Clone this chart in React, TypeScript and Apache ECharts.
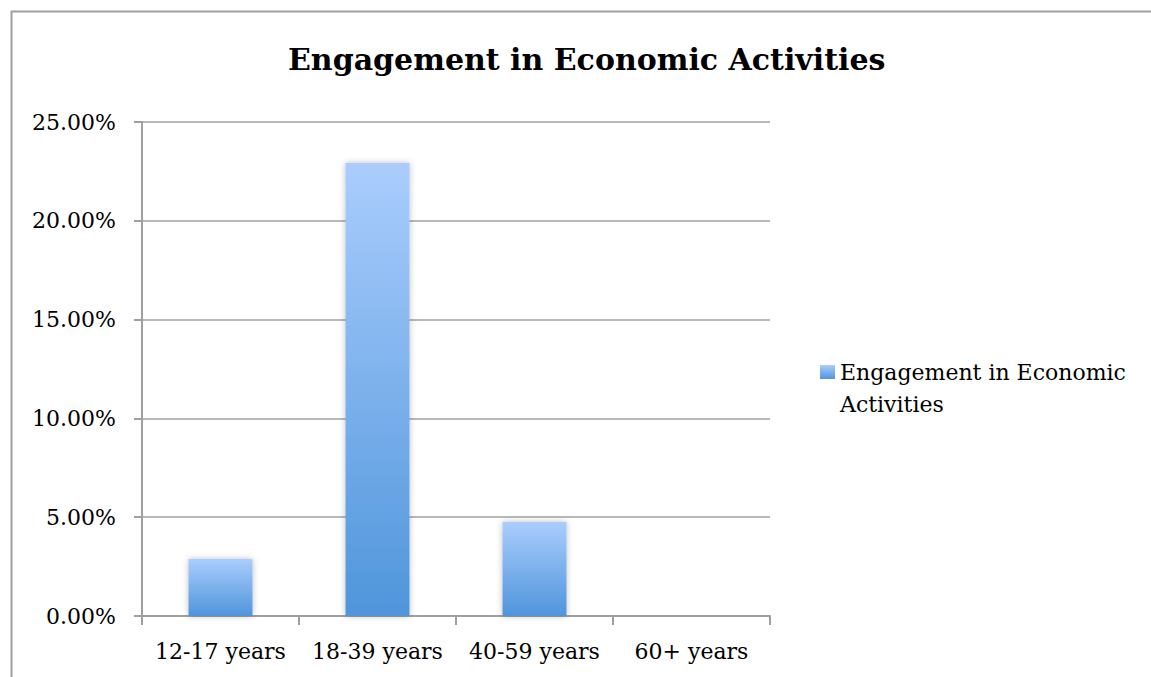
import React, { useEffect, useRef } from "react";
import * as echarts from "echarts";

const categories = ["12-17 years", "18-39 years", "40-59 years", "60+ years"];
const seriesName = "Engagement in Economic Activities";
const values = [0.0288, 0.2292, 0.0476, 0];
const yTicks = { min: 0, max: 0.25, interval: 0.05 };
const titleText = "Engagement in Economic Activities";
const legendLines = ["Engagement in Economic", "Activities"];

export default function App() {
  const ref = useRef<HTMLDivElement>(null);
  useEffect(() => {
    if (!ref.current) return;
    const chart = echarts.init(ref.current, null, { renderer: "svg" });
    const font = "DejaVu Serif";
    const grey = "#a0a0a0";
    const barGradient = new echarts.graphic.LinearGradient(0, 0, 0, 1, [
      { offset: 0, color: "#aacdfd" },
      { offset: 1, color: "#4f95db" },
    ]);
    const iconGradient = new echarts.graphic.LinearGradient(0, 0, 0, 14 / 46, [
      { offset: 0, color: "#aacdfd" },
      { offset: 1, color: "#4f95db" },
    ]);
    chart.setOption({
      animation: false,
      backgroundColor: "#ffffff",
      title: {
        text: titleText,
        left: 288,
        top: 44,
        padding: 0,
        textStyle: { fontFamily: font, fontWeight: "bold", fontSize: 30, color: "#000" },
      },
      graphic: [
        { type: "line", shape: { x1: 11, y1: 11.5, x2: 1151, y2: 11.5 }, style: { stroke: grey, lineWidth: 2 } },
        { type: "line", shape: { x1: 11.5, y1: 11, x2: 11.5, y2: 677 }, style: { stroke: grey, lineWidth: 2 } },
      ],
      legend: {
        show: true,
        left: 820,
        top: 356,
        padding: 0,
        itemWidth: 15,
        itemHeight: 46,
        icon: "path://M0,0H15V14H0Z M0,46L0.01,46",
        itemStyle: { color: iconGradient },
        formatter: () => legendLines.join("\n"),
        textStyle: { fontFamily: font, fontSize: 22, color: "#000", lineHeight: 32 },
      },
      grid: { left: 142, right: 381, top: 122, bottom: 61, containLabel: false },
      xAxis: {
        type: "category",
        data: categories,
        axisLine: { lineStyle: { color: grey, width: 2 } },
        axisTick: { show: true, length: 9, lineStyle: { color: grey, width: 2 } },
        axisLabel: { fontFamily: font, fontSize: 22, color: "#000", margin: 24, interval: 0 },
      },
      yAxis: {
        type: "value",
        min: yTicks.min,
        max: yTicks.max,
        interval: yTicks.interval,
        axisLine: { show: true, lineStyle: { color: grey, width: 2 } },
        axisTick: { show: true, length: 8, lineStyle: { color: grey, width: 2 } },
        splitLine: { show: true, lineStyle: { color: grey, width: 1.5 } },
        axisLabel: {
          fontFamily: font,
          fontSize: 22,
          color: "#000",
          margin: 26,
          formatter: (v: number) => (v * 100).toFixed(2) + "%",
        },
      },
      series: [
        {
          name: seriesName,
          type: "bar",
          data: values,
          barWidth: 64,
          itemStyle: {
            color: barGradient,
            shadowBlur: 6,
            shadowColor: "rgba(0,0,0,0.25)",
          },
        },
      ],
    });
    return () => chart.dispose();
  }, []);
  return (
    <div
      ref={ref}
      style={{ position: "fixed", left: 0, top: 0, width: 1151, height: 677 }}
    />
  );
}
